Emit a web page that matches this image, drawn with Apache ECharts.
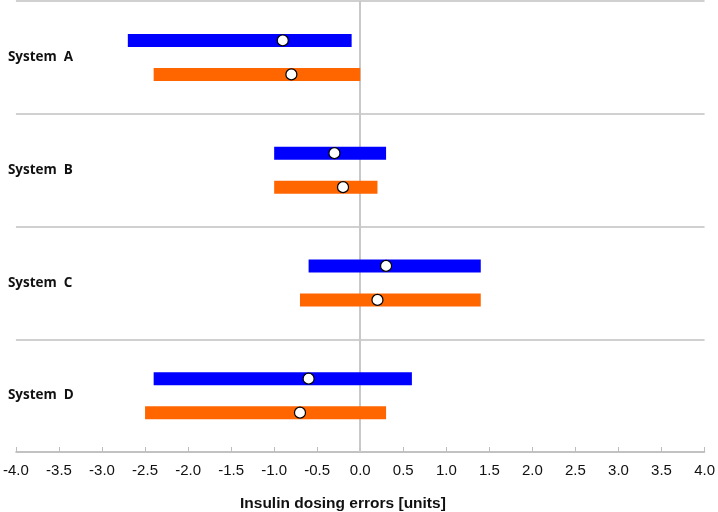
<!DOCTYPE html>
<html>
<head>
<meta charset="utf-8">
<script src="https://cdn.jsdelivr.net/npm/echarts@6/dist/echarts.min.js"></script>
<style>html,body{margin:0;padding:0;background:#fff;}#c{width:718px;height:512px;}</style>
</head>
<body>
<div id="c"></div>
<script>
const categories = ['System  A', 'System  B', 'System  C', 'System  D'];
const blueLow  = [-2.7, -1.0, -0.6, -2.4];
const blueHigh = [-0.1,  0.3,  1.4,  0.6];
const blueMean = [-0.9, -0.3,  0.3, -0.6];
const orangeLow  = [-2.4, -1.0, -0.7, -2.5];
const orangeHigh = [ 0.0,  0.2,  1.4,  0.3];
const orangeMean = [-0.8, -0.2,  0.2, -0.7];
const xTicks = { min: -4, max: 4, step: 0.5 };

const BLUE = '#0000FF', ORANGE = '#FF6600';
const OFF = 17, BAR_H = 13;

function rangeItem(offset, color) {
  return function (params, api) {
    const c = api.value(0);
    const a = api.coord([api.value(1), c]);
    const b = api.coord([api.value(2), c]);
    return {
      type: 'rect',
      shape: { x: a[0], y: a[1] + offset - BAR_H / 2, width: b[0] - a[0], height: BAR_H },
      style: { fill: color }
    };
  };
}

const chart = echarts.init(document.getElementById('c'), null, { renderer: 'canvas' });
chart.setOption({
  animation: false,
  backgroundColor: '#fff',
  grid: { left: 13, right: 11, top: 1, bottom: 60, containLabel: false },
  title: {
    text: 'Insulin dosing errors [units]',
    left: 240, top: 496, padding: 0,
    textStyle: { fontFamily: 'Liberation Sans, Arial, sans-serif', fontWeight: 'bold', fontSize: 15.5, color: '#111' }
  },
  xAxis: {
    type: 'value', min: xTicks.min, max: xTicks.max, interval: xTicks.step,
    axisLine: { show: true, lineStyle: { color: '#bdbdbd', width: 1.5 } },
    axisTick: { show: true, inside: true, length: 5, lineStyle: { color: '#bdbdbd' } },
    splitLine: { show: false },
    axisLabel: {
      margin: 11, fontSize: 15, color: '#111',
      fontFamily: 'Liberation Sans, Arial, sans-serif',
      formatter: v => v.toFixed(1)
    }
  },
  yAxis: {
    type: 'category', data: categories, inverse: true,
    axisLine: { show: false }, axisTick: { show: false },
    splitLine: { show: true, lineStyle: { color: '#c0c0c0', width: 1.5 } },
    axisLabel: {
      inside: true, margin: -8, fontSize: 13.5, fontWeight: 'bold', color: '#111',
      fontFamily: 'Open Sans, sans-serif'
    }
  },
  series: [
    {
      type: 'scatter', data: [], z: 1,
      markLine: {
        z: 1,
        silent: true, symbol: 'none', label: { show: false },
        lineStyle: { color: '#c8c8c8', width: 2, type: 'solid' },
        data: [{ xAxis: 0 }]
      }
    },
    {
      type: 'custom', renderItem: rangeItem(-OFF, BLUE),
      encode: { x: [1, 2], y: 0 },
      data: categories.map((c, i) => [i, blueLow[i], blueHigh[i]]),
      z: 3
    },
    {
      type: 'custom', renderItem: rangeItem(OFF, ORANGE),
      encode: { x: [1, 2], y: 0 },
      data: categories.map((c, i) => [i, orangeLow[i], orangeHigh[i]]),
      z: 3
    },
    {
      type: 'scatter', symbol: 'circle', symbolSize: 11, symbolOffset: [0, -OFF],
      itemStyle: { color: '#fff', borderColor: '#000', borderWidth: 1.2, opacity: 1 },
      data: categories.map((c, i) => [blueMean[i], i]), z: 5
    },
    {
      type: 'scatter', symbol: 'circle', symbolSize: 11, symbolOffset: [0, OFF],
      itemStyle: { color: '#fff', borderColor: '#000', borderWidth: 1.2, opacity: 1 },
      data: categories.map((c, i) => [orangeMean[i], i]), z: 5
    }
  ]
});
</script>
</body>
</html>
